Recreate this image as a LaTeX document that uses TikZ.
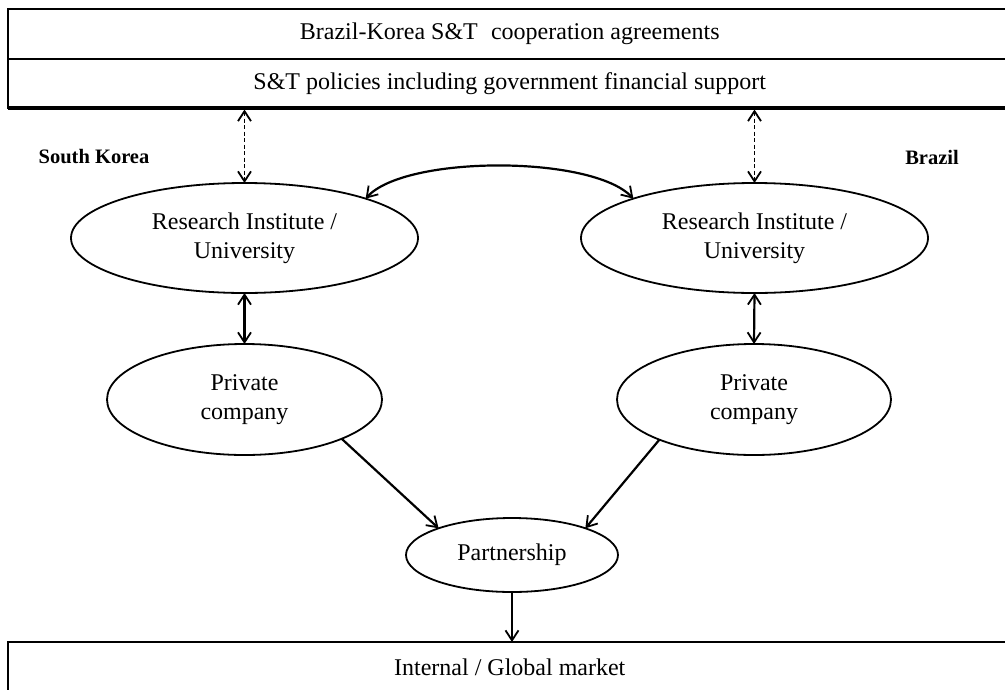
\documentclass[tikz,border=0pt]{standalone}
\usepackage{fontspec}
\setmainfont{Liberation Serif}
\usetikzlibrary{shapes.geometric,arrows.meta}
\begin{document}
\begin{tikzpicture}[x=1pt,y=-1pt,
  box/.style={draw, line width=2pt, rectangle, inner sep=0pt, outer sep=0pt, font=\fontsize{24}{28}\selectfont},
  oval/.style={draw, ellipse, line width=1.8pt, inner sep=0pt, outer sep=0pt, align=center, font=\fontsize{24}{29}\selectfont},
  lbl/.style={font=\bfseries\fontsize{20.5}{24}\selectfont},
  tip/.tip={Straight Barb[length=10pt,width=13pt,line width=1.8pt]},
  arr/.style={line width=2.2pt, -tip},
  dbl/.style={line width=2.2pt, tip-tip},
  darr/.style={line width=1.6pt, dash pattern=on 4pt off 2.5pt, tip-tip},
]
\useasboundingbox (0,0) rectangle (1005,689);
\fill[white] (0,0) rectangle (1005,689);

\node[box, minimum width=1004.5pt, minimum height=50.5pt] (agree) at (509.75,33.75) {Brazil-Korea S\&T\hspace{0.3em} cooperation agreements};
\node[box, minimum width=1004.5pt, minimum height=49pt] (policy) at (509.75,83.5) {S\&T policies including government financial support};
\draw[line width=3.4pt] (policy.south west) -- (policy.south east);

\node[box, minimum width=1004.5pt, minimum height=50pt] (market) at (509.75,667) {Internal / Global market};

\node[lbl] (sk) at (94,157) {South Korea};
\node[lbl] (br) at (932,157) {Brazil};

\node[oval, minimum width=347pt, minimum height=110pt] (ri1) at (244.5,238) {Research Institute /\\University};
\node[oval, minimum width=347pt, minimum height=110pt] (ri2) at (754.5,238) {Research Institute /\\University};
\node[oval, minimum width=275pt, minimum height=111pt] (pc1) at (244.5,399.5) {Private\\company};
\node[oval, minimum width=274pt, minimum height=111pt] (pc2) at (754,399.5) {Private\\company};
\node[oval, minimum width=212pt, minimum height=74pt] (part) at (512,555) {Partnership};

\draw[darr, shorten <=1.5pt] (ri1.north |- policy.south) -- (ri1.north);
\draw[darr, shorten <=1.5pt] (ri2.north |- policy.south) -- (ri2.north);
\draw[dbl] (ri1.south) -- (pc1.north);
\draw[dbl] (ri2.south) -- (pc2.north);
\draw[dbl] (ri1.18) .. controls (405,155) and (592,155) .. (ri2.162);
\draw[arr] (pc1.-22) -- (part.160);
\draw[arr] (pc2.203) -- (part.20);
\draw[arr] (part.south) -- (part.south |- market.north);
\end{tikzpicture}
\end{document}
